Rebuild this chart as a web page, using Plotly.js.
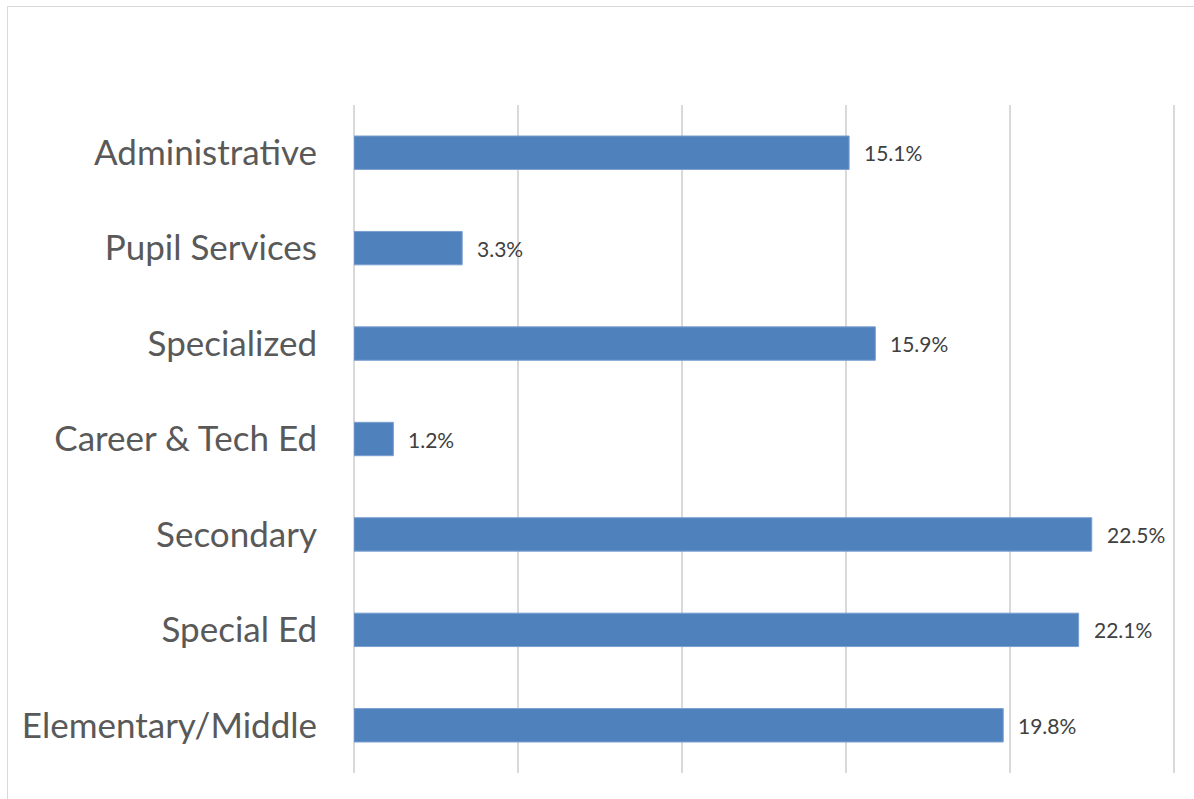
<!DOCTYPE html>
<html>
<head>
<meta charset="utf-8">
<script src="https://cdn.plot.ly/plotly-3.0.1.min.js"></script>
<style>
  html, body { margin: 0; padding: 0; background: #ffffff; }
  #frame { position: absolute; left: 7px; top: 6px; width: 1200px; height: 800px; border: 1px solid #d9d9d9; box-sizing: border-box; }
  #chart { position: absolute; left: 0; top: 0; width: 1194px; height: 799px; }
</style>
</head>
<body>
<div id="frame"></div>
<div id="chart"></div>
<script>
const categories = ["Elementary/Middle", "Special Ed", "Secondary", "Career & Tech Ed", "Specialized", "Pupil Services", "Administrative"];
const values = [19.8, 22.1, 22.5, 1.2, 15.9, 3.3, 15.1];
const valueLabels = values.map(v => v.toFixed(1) + "%");

const trace = {
  type: "bar",
  orientation: "h",
  y: categories,
  x: values,
  marker: { color: "#4f81bd", line: { color: "#7a9fd0", width: 1 } },
  hoverinfo: "skip"
};

const annotations = values.map((v, i) => ({
  x: v, y: categories[i], xref: "x", yref: "y",
  text: valueLabels[i], showarrow: false,
  xanchor: "left", yanchor: "middle", xshift: 13,
  font: { family: "Lato, 'Open Sans', sans-serif", size: 21, color: "#404040" }
}));

const layout = {
  width: 1194, height: 799,
  margin: { l: 354, r: 17, t: 105, b: 26, pad: 0 },
  paper_bgcolor: "rgba(0,0,0,0)",
  plot_bgcolor: "rgba(0,0,0,0)",
  showlegend: false,
  bargap: 0.65,
  xaxis: {
    range: [0, 25.1], dtick: 5, tick0: 0,
    showgrid: true, gridcolor: "#d9d9d9", gridwidth: 2,
    zeroline: true, zerolinecolor: "#d9d9d9", zerolinewidth: 2,
    showticklabels: false, ticks: "", showline: false, fixedrange: true
  },
  yaxis: {
    type: "category", categoryorder: "array", categoryarray: categories,
    range: [-0.5, 6.5],
    showgrid: false, zeroline: false, showline: false, ticks: "",
    ticklabelstandoff: 36,
    tickfont: { family: "Lato, 'Open Sans', sans-serif", size: 35, color: "#595959" }
  },
  annotations: annotations,
  font: { family: "Lato, 'Open Sans', sans-serif" }
};

Plotly.newPlot("chart", [trace], layout, { displayModeBar: false, staticPlot: true });
</script>
</body>
</html>
